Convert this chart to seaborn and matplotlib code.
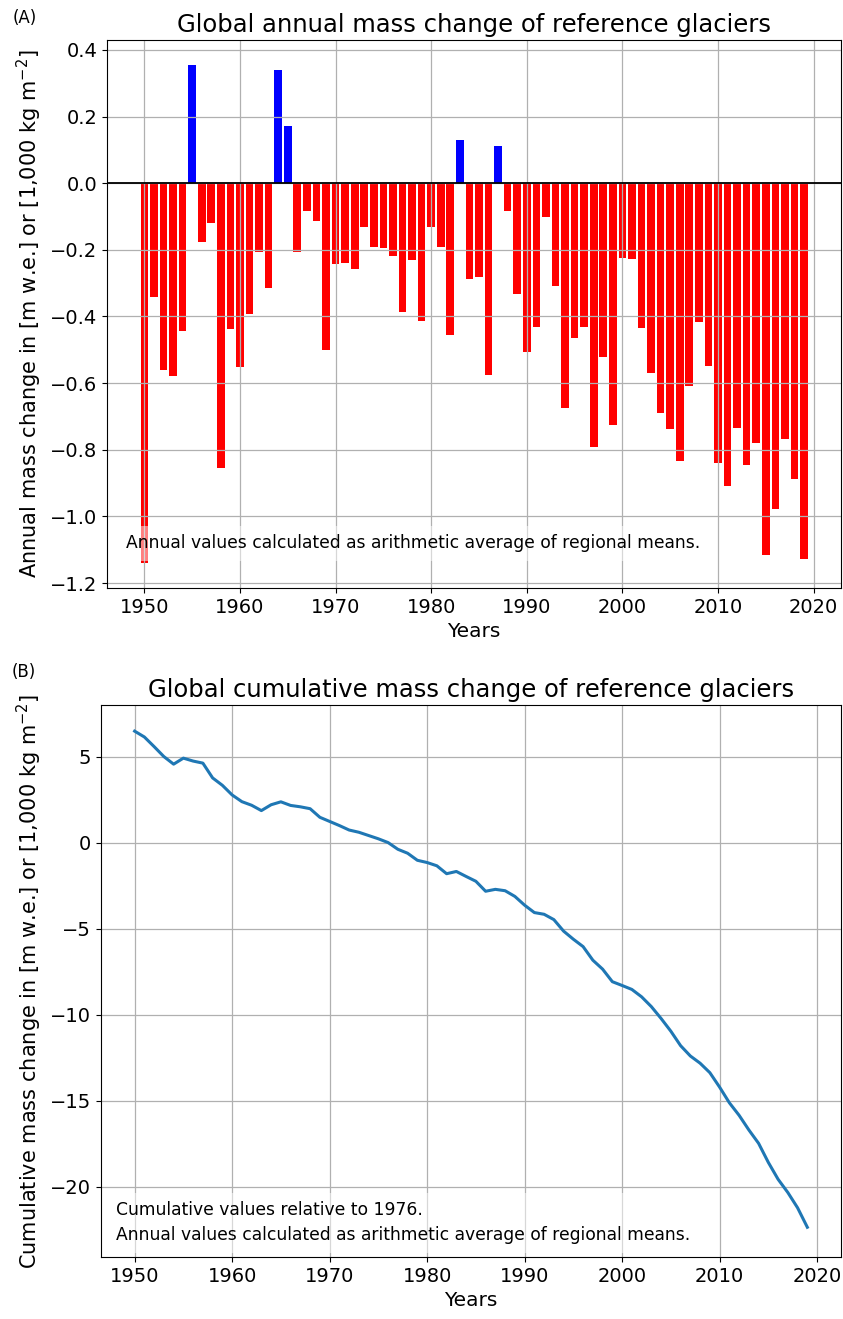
import matplotlib
matplotlib.use("Agg")
import matplotlib.pyplot as plt
import seaborn as sns
import pandas as pd
import numpy as np

years = list(range(1950, 2020))

annual = [
    -1.14, -0.343, -0.56, -0.579, -0.443, 0.356, -0.177, -0.118, -0.855, -0.437,
    -0.553, -0.394, -0.207, -0.314, 0.340, 0.172, -0.205, -0.083, -0.113, -0.50,
    -0.241, -0.238, -0.258, -0.130, -0.191, -0.193, -0.217, -0.387, -0.231, -0.413,
    -0.132, -0.191, -0.457, 0.130, -0.286, -0.282, -0.577, 0.111, -0.084, -0.332,
    -0.506, -0.432, -0.101, -0.307, -0.674, -0.465, -0.432, -0.791, -0.521, -0.725,
    -0.225, -0.227, -0.436, -0.570, -0.690, -0.739, -0.833, -0.609, -0.416, -0.549,
    -0.840, -0.908, -0.735, -0.845, -0.781, -1.116, -0.979, -0.767, -0.889, -1.129,
]

cumulative = [
    6.48, 6.14, 5.58, 5.00, 4.56, 4.91, 4.74, 4.62, 3.76, 3.33,
    2.77, 2.38, 2.17, 1.86, 2.20, 2.37, 2.16, 2.08, 1.97, 1.47,
    1.23, 0.99, 0.73, 0.60, 0.41, 0.22, 0.00, -0.39, -0.62, -1.03,
    -1.16, -1.35, -1.81, -1.68, -1.97, -2.25, -2.83, -2.72, -2.80, -3.13,
    -3.64, -4.07, -4.17, -4.48, -5.15, -5.62, -6.05, -6.84, -7.36, -8.09,
    -8.31, -8.54, -8.97, -9.54, -10.23, -10.97, -11.81, -12.41, -12.83, -13.38,
    -14.22, -15.13, -15.86, -16.71, -17.49, -18.60, -19.58, -20.35, -21.24, -22.37,
]

xticks = [1950, 1960, 1970, 1980, 1990, 2000, 2010, 2020]

title_a = "Global annual mass change of reference glaciers"
title_b = "Global cumulative mass change of reference glaciers"
ylabel_a = "Annual mass change in [m w.e.] or [1,000 kg m$^{-2}$]"
ylabel_b = "Cumulative mass change in [m w.e.] or [1,000 kg m$^{-2}$]"
note_a = "Annual values calculated as arithmetic average of regional means."
note_b = ("Cumulative values relative to 1976.\n"
          "Annual values calculated as arithmetic average of regional means.")

df_a = pd.DataFrame({"year": years, "value": annual})
df_a["sign"] = np.where(df_a["value"] >= 0, "pos", "neg")
df_b = pd.DataFrame({"year": years, "cum": cumulative})

plt.rcParams["font.family"] = ["DejaVu Sans"]

fig = plt.figure(figsize=(8.43, 13.19), dpi=100)
ax1 = fig.add_axes([0.127, 0.5542, 0.871, 0.4155])
ax2 = fig.add_axes([0.1198, 0.047, 0.8778, 0.4185])

sns.barplot(data=df_a, x="year", y="value", hue="sign",
            palette={"pos": "#0000ff", "neg": "#ff0000"}, native_scale=True,
            dodge=False, saturation=1, errorbar=None, legend=False, width=0.8,
            ax=ax1)
ax1.axhline(0, color="black", linewidth=1.3, zorder=2)
ax1.set_axisbelow("line")
ax1.grid(True, color="#b0b0b0", linewidth=0.9)
ax1.set_xticks(xticks)
ax1.set_xlim(1946.1, 2022.9)
ax1.set_ylim(-1.215, 0.43)
ax1.set_yticks([0.4, 0.2, 0.0, -0.2, -0.4, -0.6, -0.8, -1.0, -1.2])
ax1.set_title(title_a, fontsize=17.5)
ax1.set_xlabel("Years", fontsize=14.5)
ax1.set_ylabel(ylabel_a, fontsize=15)
ax1.tick_params(labelsize=14)
ax1.text(0.0255, 0.0816, note_a, transform=ax1.transAxes, fontsize=12.3,
         va="center", ha="left",
         bbox=dict(facecolor="white", alpha=0.5, edgecolor="none", pad=6))

sns.lineplot(data=df_b, x="year", y="cum", color="#1f77b4", linewidth=2.2, ax=ax2)
ax2.set_axisbelow("line")
ax2.grid(True, color="#b0b0b0", linewidth=0.9)
ax2.set_xticks(xticks)
ax2.set_xlim(1946.55, 2022.45)
ax2.set_ylim(-24.1, 8.0)
ax2.set_title(title_b, fontsize=17.5)
ax2.set_xlabel("Years", fontsize=14.5)
ax2.set_ylabel(ylabel_b, fontsize=15)
ax2.tick_params(labelsize=14)
ax2.text(0.02, 0.062, note_b, transform=ax2.transAxes, fontsize=12.3,
         va="center", ha="left", linespacing=1.5,
         bbox=dict(facecolor="white", alpha=0.5, edgecolor="none", pad=6))

fig.text(0.015, 0.9864, "(A)", fontsize=12, va="center", ha="left")
fig.text(0.014, 0.4905, "(B)", fontsize=12, va="center", ha="left")

fig.savefig("out.png", dpi=100)
